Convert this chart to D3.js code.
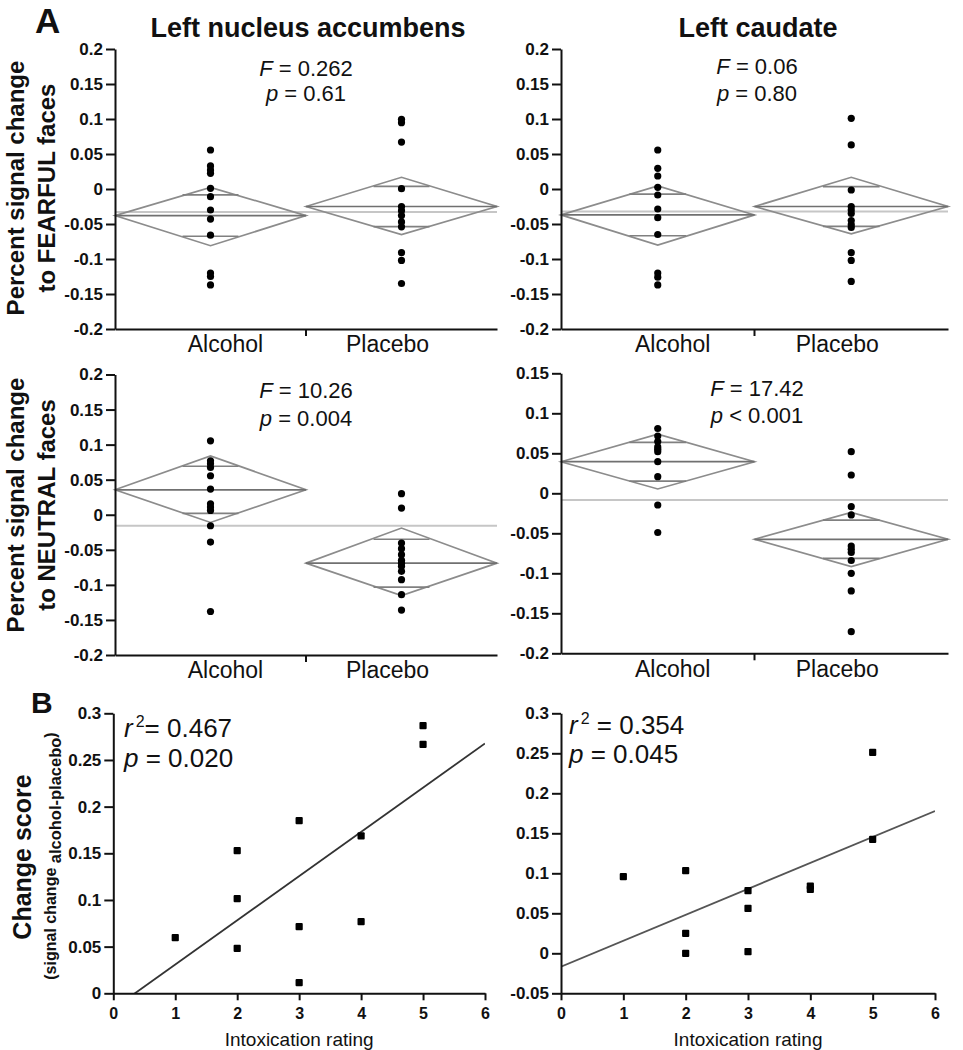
<!DOCTYPE html>
<html><head><meta charset="utf-8">
<script src="https://cdn.jsdelivr.net/npm/d3@7"></script>
<style>
body{margin:0;background:#fff}
svg{display:block}
text{font-family:"Liberation Sans",Arial,sans-serif;fill:#111}
</style>
</head><body>
<svg id="c" width="963" height="1050"></svg>
<script>
// ---------------- DATA ----------------
const groups = ["Alcohol", "Placebo"];

// Panel A, row 1: FEARFUL faces
const naccFearAlcohol = [0.0557, 0.0329, 0.0271, 0.0224, 0.001, -0.011, -0.030, -0.043, -0.066, -0.120, -0.125, -0.137];
const naccFearPlacebo = [0.0995, 0.0948, 0.067, 0.0005, -0.025, -0.031, -0.038, -0.047, -0.054, -0.091, -0.102, -0.135];
const naccFearMeans = [-0.038, -0.025];
const naccFearLow = [-0.081, -0.065];
const naccFearHigh = [0.0024, 0.0167];
const naccFearGrand = -0.033;

const caudFearAlcohol = [0.0557, 0.0295, 0.0186, 0.0024, -0.0086, -0.0286, -0.041, -0.065, -0.120, -0.126, -0.137];
const caudFearPlacebo = [0.101, 0.0629, -0.0014, -0.025, -0.030, -0.035, -0.045, -0.051, -0.055, -0.091, -0.102, -0.132];
const caudFearMeans = [-0.037, -0.025];
const caudFearLow = [-0.080, -0.064];
const caudFearHigh = [0.0043, 0.0167];
const caudFearGrand = -0.032;

// Panel A, row 2: NEUTRAL faces
const naccNeutAlcohol = [0.1054, 0.077, 0.0727, 0.0674, 0.0556, 0.0366, 0.0157, 0.011, 0.0061, -0.0157, -0.039, -0.138];
const naccNeutPlacebo = [0.030, 0.0095, -0.0404, -0.0484, -0.057, -0.065, -0.069, -0.0736, -0.0807, -0.0926, -0.114, -0.136];
const naccNeutMeans = [0.0356, -0.069];
const naccNeutLow = [-0.011, -0.1154];
const naccNeutHigh = [0.084, -0.019];
const naccNeutGrand = -0.0157;

const caudNeutAlcohol = [0.081, 0.0716, 0.0646, 0.058, 0.055, 0.052, 0.0395, 0.0208, -0.0146, -0.049];
const caudNeutPlacebo = [0.052, 0.0229, -0.0167, -0.027, -0.066, -0.070, -0.074, -0.084, -0.100, -0.122, -0.173];
const caudNeutMeans = [0.0395, -0.0575];
const caudNeutLow = [0.0054, -0.0917];
const caudNeutHigh = [0.074, -0.024];
const caudNeutGrand = -0.0084;

// Panel B: intoxication rating vs change score
const naccRating = [1, 2, 2, 2, 3, 3, 3, 4, 4, 5, 5];
const naccChange = [0.0596, 0.1528, 0.1014, 0.0482, 0.185, 0.0714, 0.0114, 0.1686, 0.0768, 0.2868, 0.2668];
const caudRating = [1, 2, 2, 2, 3, 3, 3, 4, 4, 5, 5];
const caudChange = [0.0958, 0.1033, 0.025, 0.0, 0.0783, 0.0562, 0.002, 0.0841, 0.080, 0.2512, 0.1425];

// Tick values / labels
const ticksA1 = [0.2, 0.15, 0.1, 0.05, 0, -0.05, -0.1, -0.15, -0.2];
const ticksCaudNeut = [0.15, 0.1, 0.05, 0, -0.05, -0.1, -0.15, -0.2];
const ticksBnacc = [0.3, 0.25, 0.2, 0.15, 0.1, 0.05, 0];
const ticksBcaud = [0.3, 0.25, 0.2, 0.15, 0.1, 0.05, 0, -0.05];
const ticksRating = [0, 1, 2, 3, 4, 5, 6];

// Stats text
const statsText = [
  ["F", " = 0.262", "p", " = 0.61"],
  ["F", " = 0.06", "p", " = 0.80"],
  ["F", " = 10.26", "p", " = 0.004"],
  ["F", " = 17.42", "p", " < 0.001"]
];

// ---------------- DRAW ----------------
const svg = d3.select("#c");
const fmt = d => (d === 0 ? "0" : String(d));

function styleAxis(g, fs) {
  g.select(".domain").attr("stroke", "#111").attr("stroke-width", 2);
  g.selectAll(".tick line").attr("stroke", "#111").attr("stroke-width", 2);
  g.selectAll(".tick text").attr("font-size", fs).attr("font-weight", "bold").attr("fill", "#111")
    .style("font-family", "'Liberation Sans',Arial,sans-serif");
}

function diamondPanel(cfg) {
  const y = d3.scaleLinear().domain(cfg.yDomain).range([cfg.yBottom, cfg.yTop]);
  const x = d3.scaleBand().domain(groups).range([cfg.x0, cfg.x1]).padding(0);
  const g = svg.append("g");

  // grand mean
  g.append("line").attr("x1", cfg.x0).attr("x2", cfg.x1)
    .attr("y1", y(cfg.grand)).attr("y2", y(cfg.grand))
    .attr("stroke", "#c6c6c6").attr("stroke-width", 2);

  groups.forEach((grp, i) => {
    const m = cfg.means[i], lo = cfg.low[i], hi = cfg.high[i];
    const bx0 = x(grp), bx1 = x(grp) + x.bandwidth(), cx = (bx0 + bx1) / 2;
    g.append("path")
      .attr("d", `M${bx0},${y(m)}L${cx},${y(hi)}L${bx1},${y(m)}L${cx},${y(lo)}Z`)
      .attr("fill", "none").attr("stroke", "#8c8c8c").attr("stroke-width", 1.7);
    g.append("line").attr("x1", bx0).attr("x2", bx1).attr("y1", y(m)).attr("y2", y(m))
      .attr("stroke", "#707070").attr("stroke-width", 1.7);
    const half = (hi - lo) / 2, om = half / Math.SQRT2;
    const hw = (bx1 - bx0) / 2 * (1 - om / half);
    [m + om, m - om].forEach(v => {
      g.append("line").attr("x1", cx - hw).attr("x2", cx + hw).attr("y1", y(v)).attr("y2", y(v))
        .attr("stroke", "#808080").attr("stroke-width", 1.7);
    });
  });

  // dots
  [cfg.alc, cfg.plc].forEach((arr, i) => {
    const cx = x(groups[i]) + x.bandwidth() / 2;
    g.selectAll(null).data(arr).enter().append("circle")
      .attr("cx", cx).attr("cy", d => y(d)).attr("r", 3.6).attr("fill", "#000");
  });

  // y axis
  const ya = g.append("g").attr("transform", `translate(${cfg.x0},0)`)
    .call(d3.axisLeft(y).tickValues(cfg.ticks).tickFormat(fmt).tickSize(9).tickSizeOuter(0).tickPadding(3));
  styleAxis(ya, 17);

  // x axis
  const xa = g.append("g").attr("transform", `translate(0,${cfg.yBottom})`)
    .call(d3.axisBottom(x).tickSize(0).tickPadding(7).tickSizeOuter(0));
  styleAxis(xa, 23);
  xa.selectAll(".tick text").attr("font-weight", "normal")
    .attr("dx", (d, i) => (i === 0 ? 15 : -14));
  g.append("line").attr("x1", x("Placebo")).attr("x2", x("Placebo"))
    .attr("y1", cfg.yBottom).attr("y2", cfg.yBottom + 7)
    .attr("stroke", "#111").attr("stroke-width", 2);

  // stats text
  const st = cfg.stats;
  const t1 = g.append("text").attr("x", cfg.statX).attr("y", cfg.statY1).attr("text-anchor", "middle").attr("font-size", 22);
  t1.append("tspan").attr("font-style", "italic").text(st[0]);
  t1.append("tspan").text(st[1]);
  const t2 = g.append("text").attr("x", cfg.statX).attr("y", cfg.statY2).attr("text-anchor", "middle").attr("font-size", 22);
  t2.append("tspan").attr("font-style", "italic").text(st[2]);
  t2.append("tspan").text(st[3]);
}

function scatterPanel(cfg) {
  const x = d3.scaleLinear().domain([0, 6]).range([cfg.x0, cfg.x1]);
  const y = d3.scaleLinear().domain(cfg.yDomain).range([cfg.yBottom, cfg.yTop]);
  const g = svg.append("g");
  const clipId = "clip" + cfg.id;
  svg.append("clipPath").attr("id", clipId).append("rect")
    .attr("x", cfg.x0).attr("y", cfg.yTop).attr("width", cfg.x1 - cfg.x0).attr("height", cfg.yBottom - cfg.yTop);

  // least-squares regression computed from the data
  const n = cfg.xs.length;
  const mx = d3.mean(cfg.xs), my = d3.mean(cfg.ys);
  let sxy = 0, sxx = 0;
  for (let i = 0; i < n; i++) { sxy += (cfg.xs[i] - mx) * (cfg.ys[i] - my); sxx += (cfg.xs[i] - mx) ** 2; }
  const b = sxy / sxx, a = my - b * mx;
  g.append("path").attr("clip-path", `url(#${clipId})`)
    .attr("d", d3.line()([[x(0), y(a)], [x(6), y(a + b * 6)]]))
    .attr("stroke", cfg.lineColor).attr("stroke-width", 1.8).attr("fill", "none");

  g.selectAll(null).data(cfg.xs.map((d, i) => [d, cfg.ys[i]])).enter().append("rect")
    .attr("x", d => x(d[0]) - 3.6).attr("y", d => y(d[1]) - 3.6)
    .attr("width", 7.2).attr("height", 7.2).attr("rx", 1).attr("fill", "#000");

  const ya = g.append("g").attr("transform", `translate(${cfg.x0},0)`)
    .call(d3.axisLeft(y).tickValues(cfg.ticks).tickFormat(fmt).tickSize(9).tickSizeOuter(0).tickPadding(3));
  styleAxis(ya, 17);
  const xa = g.append("g").attr("transform", `translate(0,${cfg.yBottom})`)
    .call(d3.axisBottom(x).tickValues(ticksRating).tickFormat(d3.format("d")).tickSize(7).tickSizeOuter(0).tickPadding(7));
  styleAxis(xa, 16);

  g.append("text").attr("x", (cfg.x0 + cfg.x1) / 2).attr("y", 1046).attr("text-anchor", "middle")
    .attr("font-size", 19).attr("fill", "#222").text("Intoxication rating");

  const r = g.append("text").attr("x", cfg.statX).attr("y", cfg.statY1).attr("font-size", 26);
  r.append("tspan").attr("font-style", "italic").text("r");
  r.append("tspan").attr("font-size", 16).attr("dy", -10).attr("dx", 3).text("2");
  r.append("tspan").attr("dy", 10).text(cfg.rText);
  const p = g.append("text").attr("x", cfg.statX).attr("y", cfg.statY2).attr("font-size", 26);
  p.append("tspan").attr("font-style", "italic").text("p");
  p.append("tspan").text(cfg.pText);
}

// Row 1
diamondPanel({x0: 115, x1: 497, yTop: 49, yBottom: 329, yDomain: [-0.2, 0.2], ticks: ticksA1,
  alc: naccFearAlcohol, plc: naccFearPlacebo, means: naccFearMeans, low: naccFearLow, high: naccFearHigh,
  grand: naccFearGrand, stats: statsText[0], statX: 306, statY1: 76, statY2: 101});
diamondPanel({x0: 561, x1: 948, yTop: 49, yBottom: 329, yDomain: [-0.2, 0.2], ticks: ticksA1,
  alc: caudFearAlcohol, plc: caudFearPlacebo, means: caudFearMeans, low: caudFearLow, high: caudFearHigh,
  grand: caudFearGrand, stats: statsText[1], statX: 757, statY1: 74, statY2: 101});
// Row 2
diamondPanel({x0: 115, x1: 497, yTop: 374.5, yBottom: 655, yDomain: [-0.2, 0.2], ticks: ticksA1,
  alc: naccNeutAlcohol, plc: naccNeutPlacebo, means: naccNeutMeans, low: naccNeutLow, high: naccNeutHigh,
  grand: naccNeutGrand, stats: statsText[2], statX: 306, statY1: 398, statY2: 426});
diamondPanel({x0: 561, x1: 948, yTop: 373.3, yBottom: 653.3, yDomain: [-0.2, 0.15], ticks: ticksCaudNeut,
  alc: caudNeutAlcohol, plc: caudNeutPlacebo, means: caudNeutMeans, low: caudNeutLow, high: caudNeutHigh,
  grand: caudNeutGrand, stats: statsText[3], statX: 757, statY1: 396, statY2: 423});
// Row 3
scatterPanel({id: 5, x0: 113.3, x1: 485, yTop: 713.3, yBottom: 993.3, yDomain: [0, 0.3], ticks: ticksBnacc,
  xs: naccRating, ys: naccChange, lineColor: "#333", statX: 124, statY1: 737, statY2: 767,
  rText: "= 0.467", pText: " = 0.020"});
scatterPanel({id: 6, x0: 561, x1: 935, yTop: 713.3, yBottom: 993.3, yDomain: [-0.05, 0.3], ticks: ticksBcaud,
  xs: caudRating, ys: caudChange, lineColor: "#555", statX: 569, statY1: 734, statY2: 763,
  rText: " = 0.354", pText: " = 0.045"});

// Titles & labels
svg.append("text").attr("x", 35).attr("y", 33).attr("font-size", 35).attr("font-weight", "bold").text("A");
svg.append("text").attr("x", 31).attr("y", 713).attr("font-size", 30).attr("font-weight", "bold").text("B");
svg.append("text").attr("x", 308).attr("y", 37).attr("text-anchor", "middle").attr("font-size", 27).attr("font-weight", "bold").text("Left nucleus accumbens");
svg.append("text").attr("x", 758).attr("y", 37).attr("text-anchor", "middle").attr("font-size", 27).attr("font-weight", "bold").text("Left caudate");

function vlabel(x, y, txt, fs) {
  svg.append("text").attr("transform", `translate(${x},${y}) rotate(-90)`).attr("text-anchor", "middle")
    .attr("font-size", fs).attr("font-weight", "bold").text(txt);
}
vlabel(24, 188, "Percent signal change", 24);
vlabel(55, 188, "to FEARFUL faces", 24);
vlabel(24, 505, "Percent signal change", 24);
vlabel(55, 505, "to NEUTRAL faces", 24);
vlabel(31, 857, "Change score", 25);
const sub = svg.append("text").attr("transform", "translate(56,856) rotate(-90)").attr("text-anchor", "middle")
  .attr("font-size", 16).attr("font-weight", "bold");
sub.append("tspan").text("(signal change ");
sub.append("tspan").attr("dy", 5).attr("font-size", 16.5).text("alcohol-placebo");
sub.append("tspan").attr("dy", -5).text(")");
</script>
</body></html>
